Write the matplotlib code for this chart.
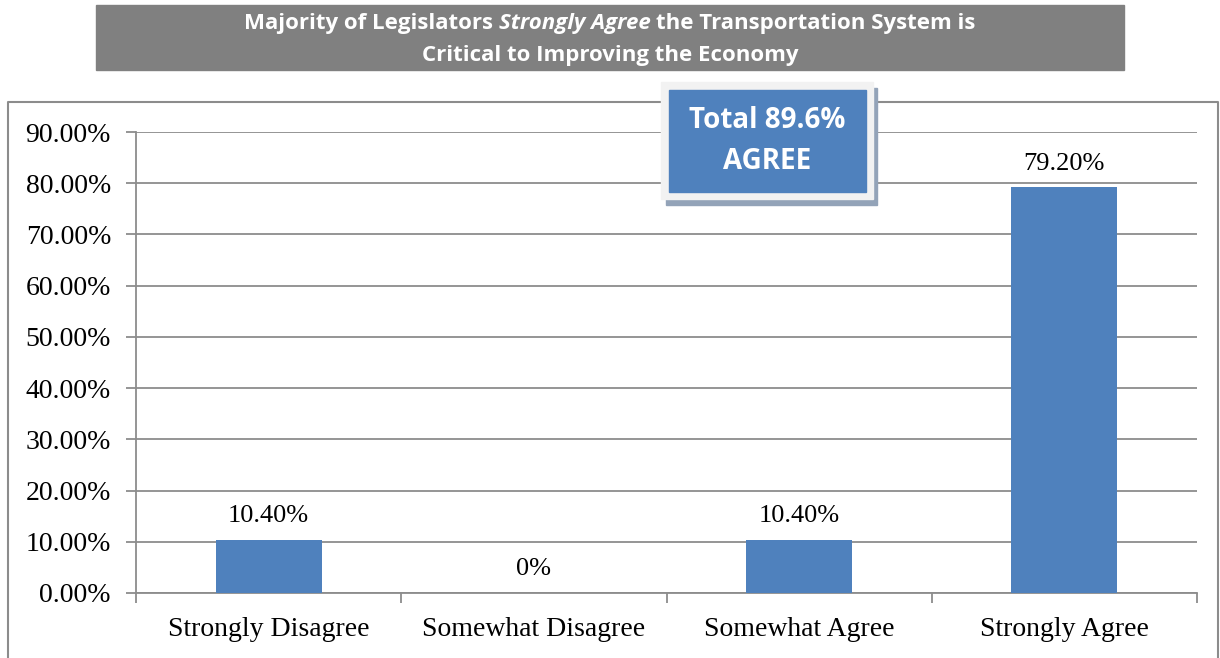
#!/usr/bin/python3
# coding: utf-8

import numpy as np
from matplotlib import pyplot as plt
from matplotlib.patches import Rectangle
from matplotlib.lines import Line2D


# Data

categories = ['Strongly Disagree', 'Somewhat Disagree', 'Somewhat Agree', 'Strongly Agree']
percent = [10.4, 0.0, 10.4, 79.2]
bar_labels = ['10.40%', '0%', '10.40%', '79.20%']
yticks = [0, 10, 20, 30, 40, 50, 60, 70, 80, 90]
ytick_labels = ['%.2f%%' % t for t in yticks]
title_parts = ['Majority of Legislators', 'Strongly Agree', 'the Transportation System is']
title_line2 = 'Critical to Improving the Economy'
callout = 'Total 89.6%\nAGREE'

W, H = 1220, 658
bar_color = '#4F81BD'
grid_color = '#8c8c8c'
serif = ['Liberation Serif', 'DejaVu Serif']
sans = ['Open Sans', 'DejaVu Sans']


def fx(px):
    return px / W


def fy(py):
    return 1 - py / H


fig = plt.figure(figsize=(W / 100, H / 100), dpi=100)

# outer frame of the chart (open at the bottom)
frame = Line2D([fx(8), fx(8), fx(1218), fx(1218)], [0, fy(102), fy(102), 0],
               transform=fig.transFigure, color='#8c8c8c', lw=1.5)
fig.add_artist(frame)

ax = fig.add_axes([fx(136), fy(593), fx(1197) - fx(136), fy(132) - fy(593)])

x = np.arange(len(categories))
ax.bar(x, percent, width=0.4, color=bar_color, zorder=3)
for xi, v, lab in zip(x, percent, bar_labels):
    ax.annotate(lab, (xi, v), xytext=(0, 17), textcoords='offset points',
                ha='center', va='center', fontsize=19, family=serif)

ax.set_xlim(-0.5, len(categories) - 0.5)
ax.set_ylim(0, 90)
ax.set_yticks(yticks)
ax.set_yticklabels(ytick_labels, family=serif, fontsize=20)
ax.yaxis.grid(True, color=grid_color, lw=1.3, zorder=0)

# category labels sit between the boundary ticks
ax.set_xticks(np.arange(-0.5, len(categories), 1.0))
ax.set_xticklabels([])
ax.set_xticks(x, minor=True)
ax.set_xticklabels(categories, minor=True, family=serif, fontsize=20)
ax.tick_params(axis='x', which='minor', length=0, pad=17)
ax.tick_params(axis='x', which='major', length=7, color=grid_color, width=1.3)
ax.tick_params(axis='y', length=7, color=grid_color, width=1.3, pad=11)

for side in ['top', 'right']:
    ax.spines[side].set_visible(False)
for side in ['left', 'bottom']:
    ax.spines[side].set_color(grid_color)
    ax.spines[side].set_linewidth(1.3)

# title banner
fig.add_artist(Rectangle((fx(96), fy(70)), fx(1124) - fx(96), fy(5) - fy(70),
                         transform=fig.transFigure, color='#808080', zorder=1))

title_kw = dict(color='white', fontsize=16, fontweight='bold', family=sans,
                va='center', ha='left', zorder=2)
t1 = fig.text(0, fy(23), title_parts[0], **title_kw)
t2 = fig.text(0, fy(23), title_parts[1], style='italic', **title_kw)
t3 = fig.text(0, fy(23), title_parts[2], **title_kw)
fig.text(fx(610), fy(55), title_line2, **dict(title_kw, ha='center'))

renderer = fig.canvas.get_renderer()
probe_a = fig.text(0, 0, 'a a', **title_kw)
probe_b = fig.text(0, 0, 'aa', **title_kw)
space = (probe_a.get_window_extent(renderer).width
         - probe_b.get_window_extent(renderer).width)
probe_a.remove()
probe_b.remove()
widths = [t.get_window_extent(renderer).width for t in (t1, t2, t3)]
total = sum(widths) + 2 * space
start = 610 - total / 2
t1.set_x(fx(start))
t2.set_x(fx(start + widths[0] + space))
t3.set_x(fx(start + widths[0] + widths[1] + 2 * space))

# callout box with shadow
fig.add_artist(Rectangle((fx(666), fy(205)), fx(877) - fx(666), fy(88) - fy(205),
                         transform=fig.transFigure, color='#93a3b8', zorder=4))
fig.add_artist(Rectangle((fx(661), fy(199)), fx(873) - fx(661), fy(82) - fy(199),
                         transform=fig.transFigure, color='#f2f2f2', zorder=5))
fig.add_artist(Rectangle((fx(669), fy(192)), fx(866) - fx(669), fy(90) - fy(192),
                         transform=fig.transFigure, color=bar_color, zorder=6))
fig.text(fx(767), fy(141), callout, color='white', fontsize=20, fontweight='bold',
         family=sans, ha='center', va='center', linespacing=1.55, zorder=7)

plt.savefig('out.png')
